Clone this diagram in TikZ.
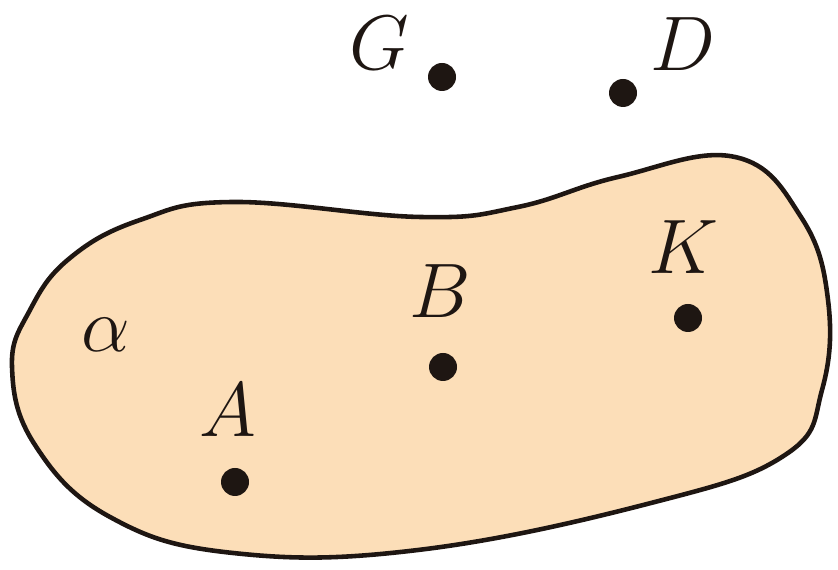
\RequirePackage{fix-cm}
\documentclass[tikz,border=0pt]{standalone}
\usetikzlibrary{positioning}
\definecolor{Peach}{RGB}{252,222,184}
\definecolor{Ink}{RGB}{30,22,18}

\begin{document}
\begin{tikzpicture}[
    plane/.style={draw=Ink,fill=Peach,line width=1.3pt},
    dot/.style={circle,fill=Ink,inner sep=0pt,minimum size=0.28cm},
    lbl/.style={text=Ink,font=\fontsize{22}{26}\selectfont}
]
\useasboundingbox (0,0) rectangle (8.38,5.70);

% Plane alpha
\draw[plane] plot[smooth cycle,tension=0.7] coordinates {
    (0.12,2.03) (0.30,2.60) (0.70,3.12) (1.40,3.50) (2.33,3.68) (4.20,3.53)
    (5.18,3.63) (6.18,3.93) (7.35,4.13) (8.01,3.53) (8.28,2.70) (8.22,1.80)
    (7.85,1.15) (6.51,0.67) (4.18,0.20) (2.33,0.17) (1.10,0.53) (0.35,1.25)};
\node[lbl] (lbl-alpha) at (1.06,2.35) {$\alpha$};

% Points in the plane
\node[dot] (dot-a) at (2.35,0.88) {};
\node[dot] (dot-b) at (4.43,2.03) {};
\node[dot] (dot-k) at (6.88,2.52) {};

\node[lbl,above=0.18cm of dot-a,xshift=-0.07cm] (lbl-a) {$A$};
\node[lbl,above=0.22cm of dot-b,xshift=-0.03cm] (lbl-b) {$B$};
\node[lbl,above=0.17cm of dot-k,xshift=-0.05cm] (lbl-k) {$K$};

% Points outside the plane
\node[dot] (dot-g) at (4.42,4.93) {};
\node[dot] (dot-d) at (6.23,4.77) {};

\node[lbl,left=0.06cm of dot-g,yshift=0.34cm] (lbl-g) {$G$};
\node[lbl,above right=0.0cm and 0.05cm of dot-d] (lbl-d) {$D$};

\end{tikzpicture}
\end{document}
